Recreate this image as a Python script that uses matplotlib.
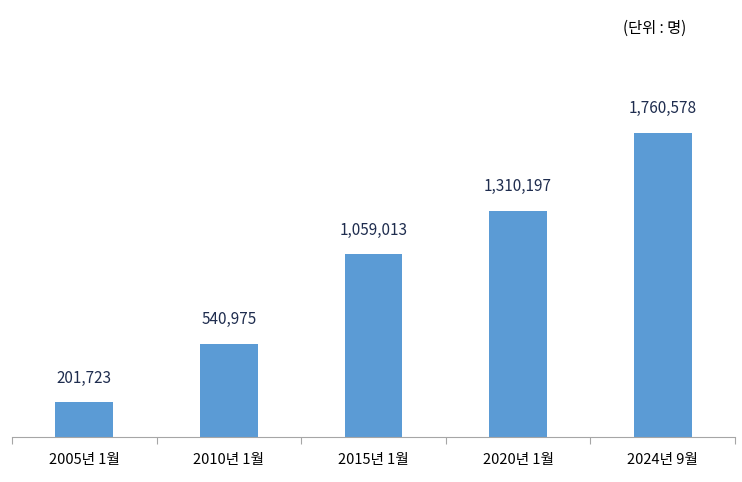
import matplotlib
matplotlib.use("Agg")
import matplotlib.pyplot as plt

plt.rcParams['font.family'] = ['Noto Sans CJK KR', 'DejaVu Sans']

categories = ["2005년 1월", "2010년 1월", "2015년 1월", "2020년 1월", "2024년 9월"]
values = [201723, 540975, 1059013, 1310197, 1760578]
value_labels = ["201,723", "540,975", "1,059,013", "1,310,197", "1,760,578"]

fig = plt.figure(figsize=(7.42, 4.82), dpi=100)
ax = fig.add_axes([12/742, 1-437/482, 723/742, 437/482])
x = range(len(categories))
ax.bar(x, values, width=0.4, color="#5B9BD5")
ax.set_xlim(-0.5, len(categories)-0.5)
ax.set_ylim(0, 2530000)
for i, (v, lab) in enumerate(zip(values, value_labels)):
    ax.text(i, v + 90000, lab, ha="center", va="bottom", fontsize=11, color="#1F2D4F")
for s in ["top", "right", "left"]:
    ax.spines[s].set_visible(False)
ax.spines["bottom"].set_color("#A6A6A6")
ax.set_yticks([])
ax.set_xticks([i + 0.5 for i in range(-1, len(categories))], minor=False)
ax.set_xticklabels([""] * (len(categories) + 1))
ax.tick_params(axis="x", length=5, color="#A6A6A6")
for i, c in enumerate(categories):
    ax.text(i, -90000, c, ha="center", va="top", fontsize=10.5, color="#000000")
fig.text(655/742, 1-28/482, "(단위 : 명)", ha="center", va="center", fontsize=11)
fig.savefig("out.png", dpi=100)
